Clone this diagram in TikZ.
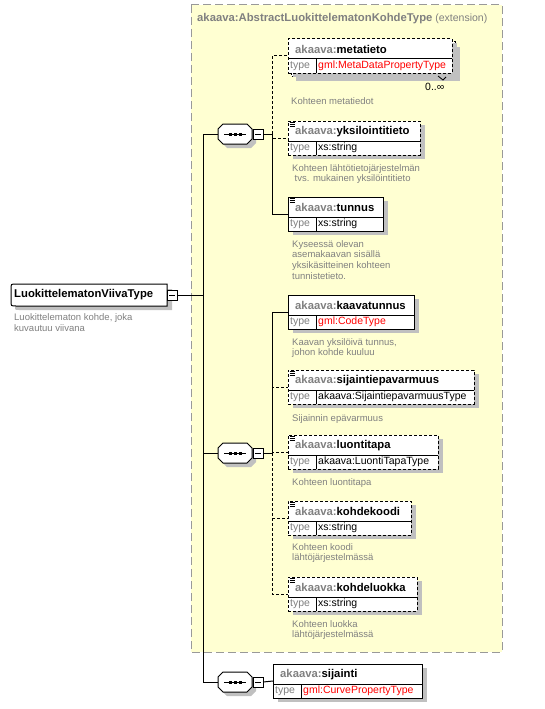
\documentclass[tikz,border=0pt]{standalone}
\usepackage{fontspec}
\setmainfont{Liberation Sans}
\usetikzlibrary{calc}
\definecolor{nsgray}{HTML}{808080}
\definecolor{descgray}{HTML}{808080}
\definecolor{shadowc}{HTML}{C0C0C0}
\definecolor{yfill}{HTML}{FFFFD2}
\definecolor{ybord}{HTML}{999999}
\definecolor{tred}{HTML}{FF0000}
\tikzset{
 elbox/.style={draw=black, fill=white, line width=1pt, inner sep=0, outer sep=0, minimum height=34pt, anchor=north west},
 optb/.style={dash pattern=on 3pt off 2pt},
 reqb/.style={},
 namefont/.style={font=\fontsize{11.3}{13}\selectfont\bfseries, inner sep=0, anchor=west},
 typefont/.style={font=\fontsize{10.5}{12}\selectfont, inner sep=0, anchor=west},
 desc/.style={font=\fontsize{9.5}{10.7}\selectfont, text=descgray, inner sep=0, anchor=north west, align=left},
 conn/.style={line width=1pt, draw=black},
 optconn/.style={conn, dash pattern=on 3pt off 2pt},
 sqbox/.style={draw=black, fill=white, line width=1pt, minimum size=10pt, inner sep=0, outer sep=0},
}
% #1 id, #2 x, #3 y, #4 w, #5 border style, #6 name, #7 type, #8 icon
\newcommand\xelem[8]{%
  \fill[shadowc] (#2+5,#3+4) rectangle ++(#4,34);
  \node[elbox,#5,minimum width=#4pt] (#1) at (#2,#3) {};
  \draw[line width=1pt] (#2,#3+20) -- (#2+#4,#3+20);
  \draw[line width=1pt] (#2+28,#3+20) -- (#2+28,#3+34);
  \node[namefont] at (#2+7,#3+10.5) {\textcolor{nsgray}{akaava:}#6};
  \node[typefont,text=nsgray] at (#2+2,#3+27) {type};
  \node[typefont] at (#2+30,#3+27) {#7};
  \ifnum#8=1
    \draw[line width=0.8pt] (#2+1.5,#3+1.5) -- ++(5,0) (#2+1.5,#3+3.5) -- ++(5,0) (#2+1.5,#3+5.5) -- ++(5,0);
  \fi
}
% #1 id, #2 cx, #3 cy
\newcommand\xseq[3]{%
  \fill[shadowc,shift={(#2+4,#3+4)}] (-12,-10) -- (12,-10) -- (17,-5) -- (17,5) -- (12,10) -- (-12,10) -- (-17,5) -- (-17,-5) -- cycle;
  \filldraw[fill=white,draw=black,line width=1pt,shift={(#2,#3)}] (-12,-10) -- (12,-10) -- (17,-5) -- (17,5) -- (12,10) -- (-12,10) -- (-17,5) -- (-17,-5) -- cycle;
  \node[inner sep=0,outer sep=0,minimum width=34pt,minimum height=20pt] (#1) at (#2,#3) {};
  \draw[line width=1pt] (#2-11,#3) -- (#2+11,#3);
  \fill (#2-6.5,#3-1.5) rectangle ++(3,3);
  \fill (#2-1.5,#3-1.5) rectangle ++(3,3);
  \fill (#2+3.5,#3-1.5) rectangle ++(3,3);
  \node[sqbox] (#1sq) at (#2+23,#3) {};
  \draw[line width=1pt] (#2+20,#3) -- (#2+26,#3);
}
\begin{document}
\begin{tikzpicture}[x=1pt,y=-1pt]
\useasboundingbox[fill=white] (0,0) rectangle (544,709);
% extension box
\draw[fill=yfill, draw=ybord, line width=1pt, dash pattern=on 8pt off 4pt] (191,5) rectangle (502,652);
\node[anchor=west, inner sep=0, font=\fontsize{10.5}{12}\selectfont, text=nsgray] (title) at (197,19) {\textbf{\fontsize{11.3}{13}\selectfont akaava:AbstractLuokittelematonKohdeType} (extension)};

% junctions
\coordinate (jm) at (203,295);
\coordinate (j1) at (272,134);
\coordinate (j2) at (272,453);

% main element
\fill[shadowc] (16,289) .. controls (15,289) .. (15,293) -- (15,306) .. controls (15,310) .. (19,310) -- (172,310) -- (172,289) -- cycle;
\filldraw[fill=white, draw=black, line width=1pt] (167,284) -- (16,284) .. controls (11,284) .. (11,289) -- (11,301) .. controls (11,306) .. (16,306) -- (167,306) -- cycle;
\node[namefont] (main) at (14,295) {LuokittelematonViivaType};
\node[sqbox] (mainsq) at (172,295) {};
\draw[line width=1pt] (169,295) -- (175,295);
\node[desc] (maindesc) at (14,313.5) {Luokittelematon kohde, joka\\kuvautuu viivana};

% sequences
\xseq{seq1}{235}{134}
\xseq{seq2}{235}{453}
\xseq{seq3}{235}{682}

% connectors
\draw[conn] (mainsq.east) -- (jm);
\draw[conn] (jm) |- (seq1.west);
\draw[conn] (jm) |- (seq2.west);
\draw[conn] (jm) |- (seq3.west);
\draw[conn] (seq1sq.east) -- (j1);
\draw[conn] (seq2sq.east) -- (j2);

% metatieto (stacked)
\fill[shadowc] (296,47) rectangle (460,81);
\draw[fill=white, line width=1pt, optb] (291,42) rectangle (455,76);
\xelem{metatieto}{288}{39}{164}{optb}{metatieto}{\textcolor{tred}{gml:MetaDataPropertyType}}{0}
\node[typefont] (occ) at (425,87) {0..∞};
\draw[line width=0.8pt] (438,76) -- (443,80) -- (446,77);
\node[desc] (metadesc) at (291,97) {Kohteen metatiedot};

\xelem{yks}{288}{121}{132}{optb}{yksilointitieto}{xs:string}{1}
\node[desc] (yksdesc) at (292,164) {Kohteen lähtötietojärjestelmän\\\hspace*{2.5pt}tvs. mukainen yksilöintitieto};

\xelem{tunnus}{288}{197}{95}{reqb}{tunnus}{xs:string}{1}
\node[desc] (tunnusdesc) at (292,240) {Kyseessä olevan\\asemakaavan sisällä\\yksikäsitteinen kohteen\\tunnistetieto.};

\draw[optconn] (j1) |- (metatieto.west);
\draw[optconn] (j1) |- (yks.west);
\draw[conn] (j1) |- (tunnus.west);

\xelem{kaava}{288}{295}{126}{reqb}{kaavatunnus}{\textcolor{tred}{gml:CodeType}}{0}
\node[desc] (kaavadesc) at (292,338) {Kaavan yksilöivä tunnus,\\johon kohde kuuluu};

\xelem{sijep}{288}{370}{186}{optb}{sijaintiepavarmuus}{akaava:SijaintiepavarmuusType}{1}
\node[desc] (sijepdesc) at (292,414) {Sijainnin epävarmuus};

\xelem{luonti}{288}{435}{150}{optb}{luontitapa}{akaava:LuontiTapaType}{1}
\node[desc] (luontidesc) at (292,478) {Kohteen luontitapa};

\xelem{kkoodi}{288}{501}{123}{optb}{kohdekoodi}{xs:string}{1}
\node[desc] (kkoodidesc) at (292,543) {Kohteen koodi\\lähtöjärjestelmässä};

\xelem{kluokka}{288}{577}{129}{optb}{kohdeluokka}{xs:string}{1}
\node[desc] (kluokkadesc) at (292,620) {Kohteen luokka\\lähtöjärjestelmässä};

\draw[optconn] (j2) |- (sijep.west);
\draw[optconn] (j2) |- (luonti.west);
\draw[optconn] (j2) |- (kkoodi.west);
\draw[optconn] (j2) |- (kluokka.west);
\draw[conn] (j2) |- (kaava.west);

\xelem{sijainti}{273}{664}{149}{reqb}{sijainti}{\textcolor{tred}{gml:CurvePropertyType}}{0}
\draw[conn] (seq3sq.east) -- (sijainti.west);
\end{tikzpicture}
\end{document}
